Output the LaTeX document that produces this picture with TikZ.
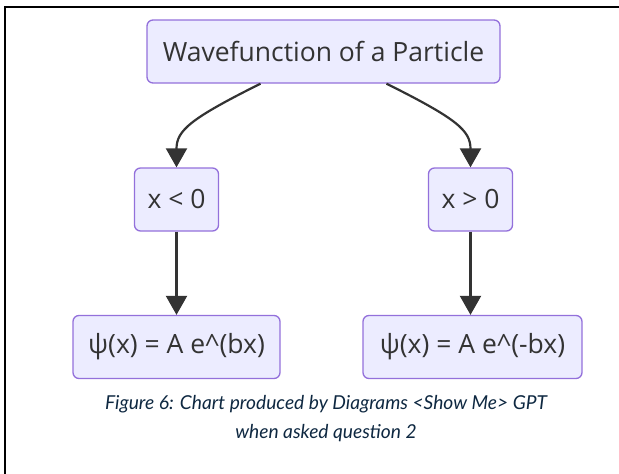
\documentclass[tikz,border=0pt]{standalone}
\usepackage{fontspec}
\setmainfont{Open Sans}
\newfontfamily\capfont{Lato}
\usetikzlibrary{arrows.meta,calc}
\definecolor{nodefill}{HTML}{ECECFF}
\definecolor{nodeline}{HTML}{9370DB}
\definecolor{edgecol}{HTML}{333333}
\definecolor{captext}{HTML}{0E2841}

\begin{document}
\begin{tikzpicture}[x=1pt,y=-1pt,
  box/.style={draw=nodeline,fill=nodefill,line width=1.3pt,rounded corners=6pt,minimum height=63pt,inner sep=0pt,text=edgecol,font=\fontsize{26.5}{30}\selectfont},
  edge/.style={-{Triangle[length=19pt,width=21pt]},draw=edgecol,line width=2.2pt},
  captxt/.style={font=\capfont\itshape\fontsize{19.2}{29}\selectfont,text=captext,align=center},
]
\useasboundingbox (0,0) rectangle (619,474);
% ---------- frame ----------
\draw[line width=2pt] (5,474) -- (5,6.5) -- (619,6.5);
% ---------- nodes ----------
\node[box,minimum width=353pt] (wave) at (323.5,51.5) {Wavefunction of a Particle};
\node[box,minimum width=84pt]  (neg) at (176.5,199.5) {x < 0};
\node[box,minimum width=84pt]  (pos) at (470.5,199.5) {x > 0};
\node[box,minimum width=207pt] (psineg) at (176.5,347) {ψ(x) = A e\textasciicircum(bx)};
\node[box,minimum width=219pt] (psipos) at (472.5,347) {ψ(x) = A e\textasciicircum(-bx)};
% ---------- edges ----------
\draw[edge] ($(wave.south)+(-63,0)$) .. controls ($(wave.south)+(-133,35)$) and ($(neg.north)+(0,-37)$) .. (neg.north);
\draw[edge] ($(wave.south)+(63,0)$) .. controls ($(wave.south)+(133,35)$) and ($(pos.north)+(0,-37)$) .. (pos.north);
\draw[edge] (neg) -- (psineg);
\draw[edge] (pos) -- (pos |- psipos.north);
% ---------- caption ----------
\node[captxt] (caption) at (326,419) {Figure 6: Chart produced by Diagrams <Show Me> GPT\\when asked question 2};
\end{tikzpicture}
\end{document}
